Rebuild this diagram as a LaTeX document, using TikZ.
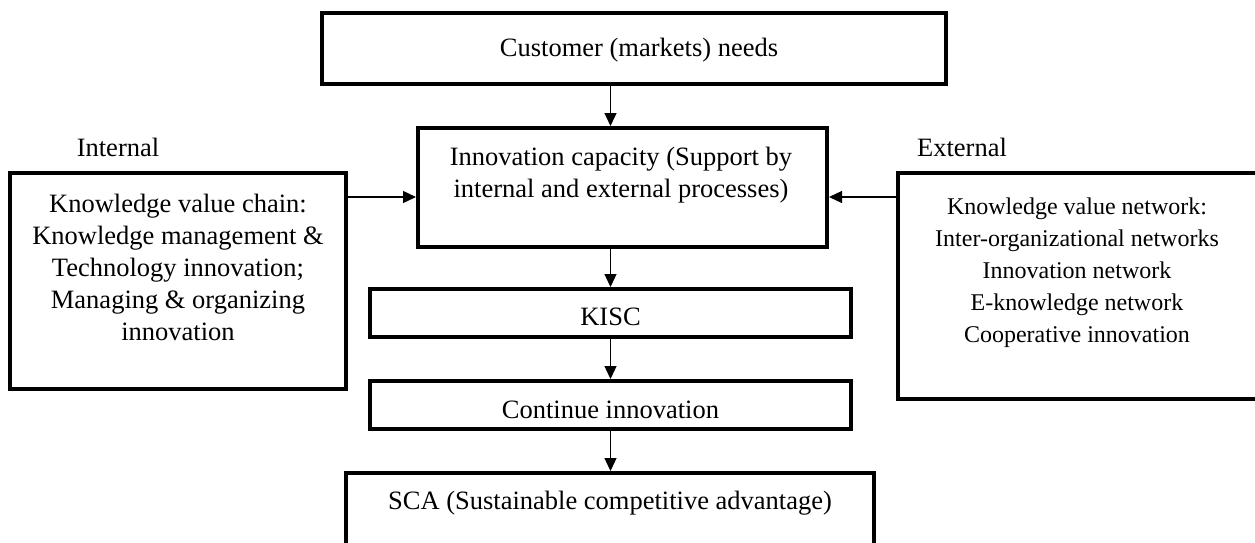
\documentclass[tikz,border=0pt]{standalone}
\usepackage{fontspec}
\setmainfont{Liberation Serif}
\usetikzlibrary{arrows.meta}
\begin{document}
\begin{tikzpicture}[x=1pt,y=-1pt,
  box/.style={draw, line width=4pt, inner sep=0pt, minimum width=#1},
  big/.style={font=\fontsize{26.5}{32}\selectfont, inner sep=0pt, anchor=base},
  small/.style={font=\fontsize{24}{32}\selectfont, inner sep=0pt, anchor=base},
  arr/.style={line width=1.3pt, -{Triangle[length=13pt,width=12pt]}}]
\useasboundingbox (0,0) rectangle (1255,542);
% boxes
\node[box=624pt, minimum height=71pt]  (top)   at (634,48.5) {};
\node[box=409pt, minimum height=119pt] (innov) at (622.5,187.5) {};
\node[box=336pt, minimum height=216pt] (left)  at (178,281) {};
\node[box=360pt, minimum height=226pt] (right) at (1078,286) {};
\node[box=481pt, minimum height=48pt]  (kisc)  at (610.5,313) {};
\node[box=481pt, minimum height=48pt]  (cont)  at (610.5,405) {};
\node[box=528pt, minimum height=87pt]  (sca)   at (610,516.5) {};
% texts
\node[big] (tTop) at (639,56) {Customer (markets) needs};
\node[big] (tInnov) at (621,165) {\begin{tabular}[t]{@{}c@{}}Innovation capacity (Support by\\internal and external processes)\end{tabular}};
\node[big] (tInt) at (118,156) {Internal};
\node[big] (tExt) at (962,156) {External};
\node[big] (tLeft) at (178,212) {\begin{tabular}[t]{@{}c@{}}Knowledge value chain:\\Knowledge management \&\\Technology innovation;\\Managing \& organizing\\innovation\end{tabular}};
\node[small] (tRight) at (1077,214) {\begin{tabular}[t]{@{}c@{}}Knowledge value network:\\Inter-organizational networks\\Innovation network\\E-knowledge network\\Cooperative innovation\end{tabular}};
\node[big] (tKisc) at (610.5,325) {KISC};
\node[big] (tCont) at (610.5,418) {Continue innovation};
\node[big] (tSca) at (610,509) {SCA (Sustainable competitive advantage)};
% connectors
\coordinate (ay) at (0,197);
\draw[arr] (top.south -| kisc.north) -- (innov.north -| kisc.north);
\draw[arr] (innov.south -| kisc.north) -- (kisc.north);
\draw[arr] (kisc.south) -- (cont.north);
\draw[arr] (cont.south) -- (sca.north -| cont.south);
\draw[arr] (left.east |- ay) -- (innov.west |- ay);
\draw[arr] (right.west |- ay) -- (innov.east |- ay);
\end{tikzpicture}
\end{document}
